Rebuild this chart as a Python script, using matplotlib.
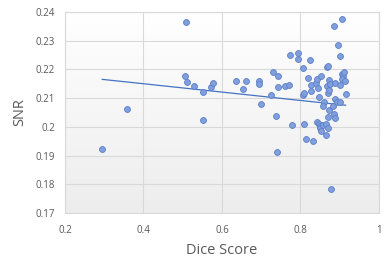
import numpy as np
import matplotlib.pyplot as plt

dice = [0.508, 0.505, 0.512, 0.528, 0.551, 0.573, 0.578, 0.551, 0.636, 0.653,
        0.662, 0.694, 0.694, 0.699, 0.725, 0.729, 0.742, 0.743, 0.738, 0.741,
        0.761, 0.771, 0.774, 0.778, 0.793, 0.793, 0.806, 0.807, 0.810, 0.810,
        0.813, 0.819, 0.824, 0.826, 0.827, 0.833, 0.839, 0.843, 0.844, 0.848,
        0.843, 0.848, 0.850, 0.853, 0.851, 0.853, 0.858, 0.861, 0.858, 0.864,
        0.864, 0.867, 0.871, 0.868, 0.870, 0.872, 0.870, 0.871, 0.873, 0.875,
        0.873, 0.879, 0.884, 0.885, 0.885, 0.887, 0.887, 0.887, 0.894, 0.897,
        0.901, 0.902, 0.902, 0.905, 0.905, 0.908, 0.906, 0.910, 0.913, 0.915,
        0.359, 0.295]
snr = [0.2365, 0.2176, 0.2155, 0.2141, 0.2121, 0.2137, 0.2153, 0.2022, 0.2159, 0.2133,
       0.2160, 0.2159, 0.2149, 0.2078, 0.2109, 0.2190, 0.2177, 0.2139, 0.2036, 0.1914,
       0.2141, 0.2147, 0.2250, 0.2007, 0.2257, 0.2235, 0.2205, 0.2109, 0.2118, 0.2009,
       0.1956, 0.2169, 0.2231, 0.2144, 0.2125, 0.1951, 0.2152, 0.2167, 0.2136, 0.2104,
       0.2017, 0.2009, 0.2002, 0.2176, 0.1995, 0.1986, 0.2005, 0.2087, 0.2074, 0.2009,
       0.1970, 0.2209, 0.2212, 0.2141, 0.2119, 0.2127, 0.2034, 0.1996, 0.2163, 0.2148,
       0.2060, 0.1784, 0.2072, 0.2046, 0.2351, 0.2151, 0.2095, 0.2030, 0.2088, 0.2283,
       0.2086, 0.2247, 0.2145, 0.2376, 0.2184, 0.2176, 0.2166, 0.2190, 0.2159, 0.2113,
       0.2061, 0.1923]

# linear trendline as shown in the chart (end points)
trend_x = [0.295, 0.915]
trend_y = [0.2165, 0.2075]

x = np.array(dice)
y = np.array(snr)

plt.rcParams['font.family'] = ['Open Sans', 'DejaVu Sans']
fig = plt.figure(figsize=(3.89, 2.68), dpi=100)
ax = fig.add_axes([0.167, 0.205, 0.807, 0.751])

# light vertical gradient behind the plot area
grad = np.linspace(1, 0, 256).reshape(-1, 1)
ax.imshow(grad, extent=[0, 1, 0, 1], transform=ax.transAxes, aspect='auto',
          cmap=plt.matplotlib.colors.LinearSegmentedColormap.from_list('g', ['#ededed', '#ffffff']),
          zorder=0)

ax.scatter(x, y, s=18, color='#819fdd', edgecolors='#5b7fc7', linewidths=0.6, zorder=3)
ax.plot(trend_x, trend_y, color='#4472c4', lw=0.9, zorder=2)

ax.set_xlim(0.2, 1.0)
ax.set_ylim(0.17, 0.24)
ax.set_xticks([0.2, 0.4, 0.6, 0.8, 1.0])
ax.set_xticklabels(['0.2', '0.4', '0.6', '0.8', '1'])
ax.set_yticks(np.arange(0.17, 0.2401, 0.01))
ax.set_yticklabels(['0.17', '0.18', '0.19', '0.2', '0.21', '0.22', '0.23', '0.24'])
ax.grid(True, color='#d9d9d9', lw=0.8)
ax.set_axisbelow(True)
for s in ax.spines.values():
    s.set_color('#d9d9d9')
ax.tick_params(length=0, labelsize=7, labelcolor='#595959')
ax.tick_params(axis='x', pad=8.5)
ax.tick_params(axis='y', pad=7)
ax.set_xlabel('Dice Score', fontsize=10.5, color='#595959', labelpad=5)
ax.set_ylabel('SNR', fontsize=10.5, color='#595959', labelpad=6)

fig.savefig('out.png', dpi=100)
